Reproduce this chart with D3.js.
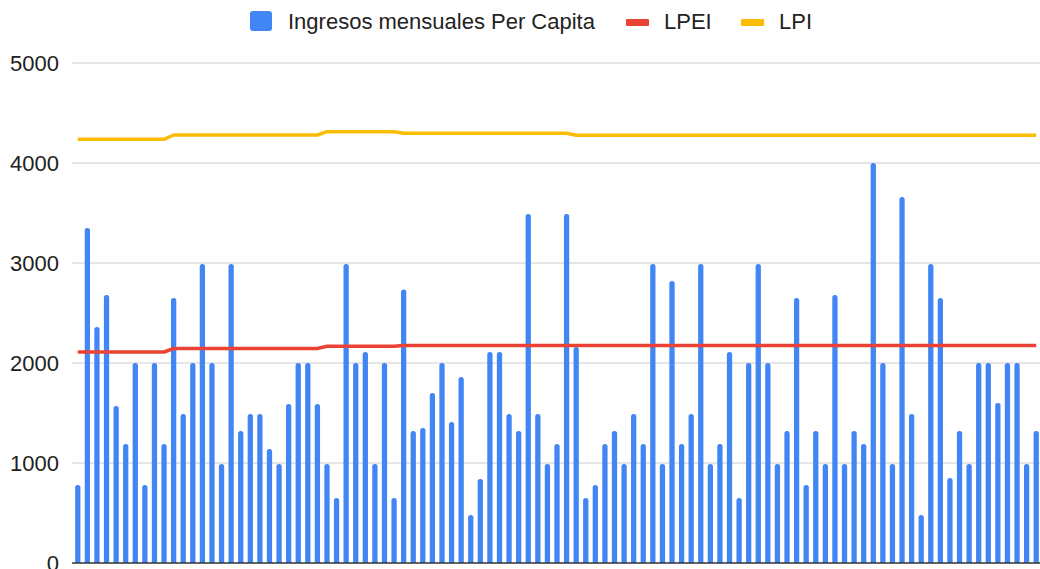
<!DOCTYPE html>
<html>
  <head>
    <meta charset="utf-8" />
    <script src="https://cdn.jsdelivr.net/npm/d3@7"></script>
    <style>
      body { margin: 0; background: #ffffff; }
      text { font-family: "Liberation Sans", Arial, sans-serif; fill: #222222; }
      .grid line { stroke: #cccccc; stroke-width: 1; }
      .baseline { stroke: #333333; stroke-width: 1.5; }
    </style>
  </head>
  <body>
    <svg width="1040" height="569"></svg>

    <script type="text/javascript">

    // monthly per-capita income, one bar per household
    var ingresos = [
      780, 3350, 2360, 2680, 1570, 1190, 2000, 780, 2000, 1190,
      2650, 1490, 2000, 2990, 2000, 990, 2990, 1320, 1490, 1490,
      1140, 990, 1590, 2000, 2000, 1590, 990, 650, 2990, 2000,
      2110, 990, 2000, 650, 2735, 1320, 1350, 1700, 2000, 1410,
      1860, 480, 840, 2110, 2110, 1490, 1320, 3490, 1490, 990,
      1190, 3490, 2160, 650, 780, 1190, 1320, 990, 1490, 1190,
      2990, 990, 2820, 1190, 1490, 2990, 990, 1190, 2110, 650,
      2000, 2990, 2000, 990, 1320, 2650, 780, 1320, 990, 2680,
      990, 1320, 1190, 4000, 2000, 990, 3660, 1490, 480, 2990,
      2650, 850, 1320, 990, 2000, 2000, 1600, 2000, 2000, 990,
      1320 ];

    var lpei = [
      2110, 2110, 2110, 2110, 2110, 2110, 2110, 2110, 2110, 2110,
      2145, 2145, 2145, 2145, 2145, 2145, 2145, 2145, 2145, 2145,
      2145, 2145, 2145, 2145, 2145, 2145, 2167, 2167, 2167, 2167,
      2167, 2167, 2167, 2167, 2175, 2175, 2175, 2175, 2175, 2175,
      2175, 2175, 2175, 2175, 2175, 2175, 2175, 2175, 2175, 2175,
      2175, 2175, 2175, 2175, 2175, 2175, 2175, 2175, 2175, 2175,
      2175, 2175, 2175, 2175, 2175, 2175, 2175, 2175, 2175, 2175,
      2175, 2175, 2175, 2175, 2175, 2175, 2175, 2175, 2175, 2175,
      2175, 2175, 2175, 2175, 2175, 2175, 2175, 2175, 2175, 2175,
      2175, 2175, 2175, 2175, 2175, 2175, 2175, 2175, 2175, 2175,
      2175 ];

    var lpi = [
      4237, 4237, 4237, 4237, 4237, 4237, 4237, 4237, 4237, 4237,
      4280, 4280, 4280, 4280, 4280, 4280, 4280, 4280, 4280, 4280,
      4280, 4280, 4280, 4280, 4280, 4280, 4313, 4313, 4313, 4313,
      4313, 4313, 4313, 4313, 4297, 4297, 4297, 4297, 4297, 4297,
      4297, 4297, 4297, 4297, 4297, 4297, 4297, 4297, 4297, 4297,
      4297, 4297, 4277, 4277, 4277, 4277, 4277, 4277, 4277, 4277,
      4277, 4277, 4277, 4277, 4277, 4277, 4277, 4277, 4277, 4277,
      4277, 4277, 4277, 4277, 4277, 4277, 4277, 4277, 4277, 4277,
      4277, 4277, 4277, 4277, 4277, 4277, 4277, 4277, 4277, 4277,
      4277, 4277, 4277, 4277, 4277, 4277, 4277, 4277, 4277, 4277,
      4277 ];

    var yTicks = [0, 1000, 2000, 3000, 4000, 5000];

    var legendItems = [
      { name: "Ingresos mensuales Per Capita", color: "#4285f4", kind: "bar" },
      { name: "LPEI", color: "#ea4335", kind: "line" },
      { name: "LPI", color: "#fbbc04", kind: "line" } ];

    var svg = d3.select("svg");

    var plotLeft = 73, plotRight = 1041, plotTop = 63, plotBottom = 563;

    var x = d3.scaleBand()
        .domain(d3.range(ingresos.length))
        .range([plotLeft, plotRight])
        .paddingInner(0.45)
        .paddingOuter(0.225);

    var y = d3.scaleLinear().domain([0, 5000]).range([plotBottom, plotTop]);

    // grid
    var grid = svg.append("g").attr("class", "grid");
    grid.selectAll("line")
        .data(yTicks.slice(1))
        .enter().append("line")
        .attr("x1", 72).attr("x2", 1040)
        .attr("y1", function(d) { return y(d); })
        .attr("y2", function(d) { return y(d); });

    svg.append("g").selectAll("text")
        .data(yTicks)
        .enter().append("text")
        .attr("x", 59)
        .attr("y", function(d) { return y(d); })
        .attr("dy", "0.36em")
        .attr("text-anchor", "end")
        .style("font-size", "22px")
        .text(function(d) { return d; });

    // bars with rounded tops
    var bw = x.bandwidth(), r = 2.5;
    svg.append("g").selectAll("path")
        .data(ingresos)
        .enter().append("path")
        .attr("fill", "#4285f4")
        .attr("d", function(d, i) {
          var x0 = x(i), x1 = x(i) + bw, yt = y(d), yb = y(0);
          return "M" + x0 + "," + yb +
                 "V" + (yt + r) +
                 "Q" + x0 + "," + yt + " " + (x0 + r) + "," + yt +
                 "H" + (x1 - r) +
                 "Q" + x1 + "," + yt + " " + x1 + "," + (yt + r) +
                 "V" + yb + "Z";
        });

    svg.append("line")
        .attr("class", "baseline")
        .attr("x1", 72).attr("x2", 1040)
        .attr("y1", y(0)).attr("y2", y(0));

    var line = d3.line()
        .x(function(d, i) { return x(i) + bw / 2; })
        .y(function(d) { return y(d); });

    [[lpei, "#ea4335"], [lpi, "#fbbc04"]].forEach(function(s) {
      svg.append("path")
          .datum(s[0])
          .attr("fill", "none")
          .attr("stroke", s[1])
          .attr("stroke-width", 3.5)
          .attr("stroke-linejoin", "round")
          .attr("d", line);
    });

    // legend
    var legendX = [250, 626, 741];
    var lg = svg.append("g").selectAll("g")
        .data(legendItems)
        .enter().append("g")
        .attr("transform", function(d, i) { return "translate(" + legendX[i] + ",0)"; });

    lg.append("rect")
        .attr("x", 0)
        .attr("y", function(d) { return d.kind == "bar" ? 11 : 19; })
        .attr("width", function(d) { return d.kind == "bar" ? 22 : 23; })
        .attr("height", function(d) { return d.kind == "bar" ? 20 : 7; })
        .attr("rx", function(d) { return d.kind == "bar" ? 3 : 1; })
        .attr("fill", function(d) { return d.color; });

    lg.append("text")
        .attr("x", 38)
        .attr("y", 21)
        .attr("dy", "0.36em")
        .style("font-size", "22px")
        .text(function(d) { return d.name; });

    </script>
  </body>
</html>
